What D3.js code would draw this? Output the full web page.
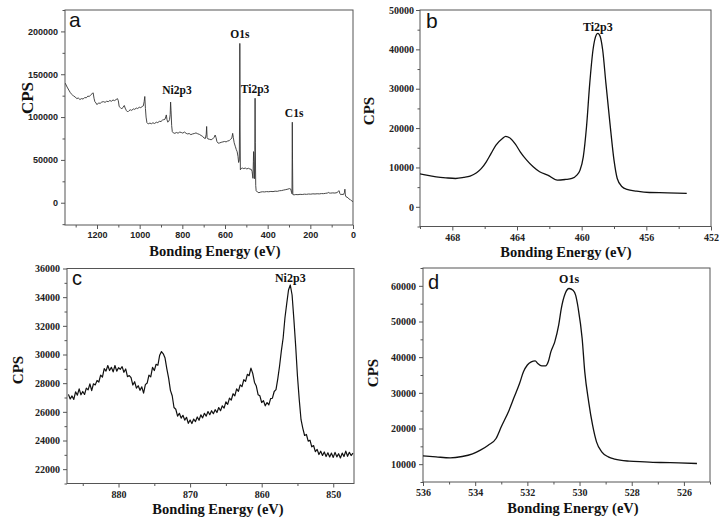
<!DOCTYPE html>
<html><head><meta charset="utf-8">
<script src="https://cdn.jsdelivr.net/npm/d3@7"></script>
<style>
html,body{margin:0;padding:0;background:#fff;}
svg{display:block;}
</style></head>
<body>
<svg id="chart" width="724" height="524"></svg>
<script>
// ---------- DATA ----------
// Panel a: survey spectrum [binding energy eV, CPS]
const surveyData = [[1349,139600],[1340,135000],[1332,131500],[1325,128500],[1318,126500],[1310,124500],[1302,123500],[1295,121500],[1288,122300],[1280,120500],[1272,121600],[1265,121000],[1258,122800],[1250,122500],[1243,124500],[1236,124000],[1228,126300],[1222,127500],[1218,128300],[1214,122000],[1210,118000],[1205,116500],[1200,114500],[1193,116500],[1185,116000],[1178,117500],[1170,118000],[1162,117200],[1155,118500],[1147,118000],[1140,119300],[1132,118500],[1125,120000],[1118,119200],[1110,120500],[1104,121500],[1100,119000],[1096,112300],[1090,111000],[1084,109500],[1078,111500],[1072,113500],[1068,110500],[1062,107500],[1056,106000],[1050,107500],[1044,108500],[1037,107800],[1030,109500],[1023,109000],[1016,110500],[1009,110000],[1002,111500],[995,111000],[988,112300],[983,113000],[979,118000],[976,124000],[973,110000],[970,100000],[966,93500],[960,92000],[952,93000],[945,92200],[938,93300],[930,92500],[922,94000],[915,93500],[908,95000],[900,94800],[893,96500],[887,97000],[881,97500],[877,101000],[875,102500],[872,97000],[868,94000],[864,95000],[860,97000],[857,103000],[855,117500],[853,108000],[850,90000],[847,83000],[842,81500],[835,81000],[828,82000],[820,81200],[812,82500],[805,82000],[798,81300],[790,82500],[782,81000],[775,80300],[768,80800],[760,79500],[752,80300],[744,80800],[736,81500],[728,80500],[720,79800],[712,78500],[705,77500],[698,75500],[692,75000],[688,80000],[686,89000],[684,76000],[680,74500],[672,74000],[665,73500],[658,74500],[652,76000],[646,79000],[642,76000],[638,71500],[632,69500],[625,69800],[618,70500],[610,71000],[602,71500],[595,71000],[588,72000],[580,72500],[574,74000],[568,75500],[564,81000],[561,76000],[557,70000],[552,66000],[547,62000],[543,59500],[539,54000],[536,47000],[533,50000],[531,120000],[530.5,186000],[529.5,100000],[528,38500],[524,40000],[518,40500],[512,39800],[505,40500],[498,39500],[490,40200],[483,39300],[477,39000],[473,36500],[469,28500],[467,48000],[466,59700],[464,40000],[462,28000],[460,60000],[459,122000],[458,70000],[456,20000],[454,14000],[448,12500],[441,11700],[432,12500],[424,12800],[415,12600],[405,13000],[395,12800],[385,13200],[375,13000],[365,13500],[355,13300],[345,14000],[335,14200],[325,14800],[315,15300],[305,15900],[298,16500],[292,16000],[288,12000],[286,10500],[285,60000],[284.5,94000],[283.5,50000],[282,9500],[276,9200],[268,9600],[258,9400],[248,9800],[238,9600],[228,10000],[218,9800],[208,10200],[198,10000],[188,10400],[178,10200],[168,10500],[158,10300],[148,10700],[138,10600],[128,11000],[120,11300],[116,12000],[112,11400],[105,11200],[95,11500],[85,11300],[75,11800],[68,13500],[65,14000],[62,11000],[58,9500],[52,9800],[45,9500],[40,12000],[38,15800],[36,9000],[33,7000],[28,6500],[22,5500],[17,4000],[12,3500],[8,2500],[4,2000],[0,1000]];

// Panel b: Ti 2p
const tiData = [[470.1,8475],[469.6,8050],[469.0,7630],[468.4,7370],[467.8,7200],[467.3,7460],[466.9,7800],[466.5,8640],[466.2,9750],[465.9,11440],[465.6,13560],[465.3,15680],[464.9,17370],[464.7,17900],[464.4,17370],[464.1,15930],[463.8,13980],[463.4,11860],[463.0,10170],[462.6,8900],[462.1,8050],[461.5,6780],[461.0,6950],[460.6,7200],[460.3,8050],[460.1,9320],[459.9,12700],[459.7,20340],[459.5,31360],[459.3,39830],[459.1,43650],[459.0,44070],[458.85,43220],[458.7,39830],[458.5,31360],[458.25,21190],[458.0,11860],[457.8,7200],[457.5,5090],[457.2,4410],[456.6,3980],[455.8,3640],[454.7,3560],[453.5,3390]];

// Panel c: Ni 2p
const niData = [[887.00,27220],[886.75,26900],[886.50,27110],[886.25,26870],[886.00,27400],[885.75,27160],[885.50,27600],[885.25,27190],[885.00,27420],[884.75,27210],[884.50,27650],[884.25,27530],[884.00,27950],[883.75,27480],[883.50,27960],[883.25,27880],[883.00,28190],[882.75,28080],[882.50,28560],[882.25,28430],[882.00,29020],[881.75,28840],[881.50,29230],[881.25,28880],[881.00,29110],[880.75,28790],[880.50,29230],[880.25,28840],[880.00,29080],[879.75,28970],[879.50,29150],[879.25,28760],[879.00,28990],[878.75,28450],[878.50,28530],[878.25,28380],[878.00,27870],[877.75,28100],[877.50,27650],[877.25,27820],[877.00,27500],[876.75,27740],[876.50,27310],[876.25,27900],[876.00,28010],[875.75,28560],[875.50,28440],[875.25,29100],[875.00,28880],[874.75,29320],[874.50,29250],[874.25,29950],[874.00,30200],[873.75,30050],[873.50,29750],[873.25,29000],[873.00,28350],[872.75,27500],[872.50,27120],[872.25,26300],[872.00,26180],[871.75,25700],[871.50,25900],[871.25,25560],[871.00,25760],[870.75,25420],[870.50,25620],[870.25,25200],[870.00,25430],[869.75,25180],[869.50,25500],[869.25,25320],[869.00,25640],[868.75,25410],[868.50,25790],[868.25,25580],[868.00,25900],[867.75,25700],[867.50,26020],[867.25,25800],[867.00,26080],[866.75,25870],[866.50,26150],[866.25,25950],[866.00,26300],[865.75,26080],[865.50,26420],[865.25,26260],[865.00,26690],[864.75,26520],[864.50,26960],[864.25,26820],[864.00,27260],[863.75,27120],[863.50,27600],[863.25,27430],[863.00,27880],[862.75,27760],[862.50,28240],[862.25,28130],[862.00,28620],[861.75,28520],[861.50,29050],[861.25,28680],[861.00,28050],[860.75,27800],[860.50,27200],[860.25,27120],[860.00,26650],[859.75,26780],[859.50,26420],[859.25,26650],[859.00,26480],[858.75,26920],[858.50,26950],[858.25,27420],[858.00,27550],[857.75,28300],[857.50,29200],[857.25,30250],[857.00,31150],[856.75,32550],[856.50,33550],[856.25,34500],[856.00,34850],[855.75,34150],[855.50,32450],[855.25,30600],[855.00,28500],[854.75,26850],[854.50,25450],[854.25,24850],[854.00,24350],[853.75,24420],[853.50,23950],[853.25,24020],[853.00,23560],[852.75,23650],[852.50,23220],[852.25,23380],[852.00,23020],[851.75,23250],[851.50,22960],[851.25,23200],[851.00,22880],[850.75,23140],[850.50,22850],[850.25,23120],[850.00,22820],[849.75,23170],[849.50,22860],[849.25,23080],[849.00,22780],[848.75,23120],[848.50,22880],[848.25,23260],[848.00,22900],[847.75,23180],[847.50,22950],[847.25,23120]];

// Panel d: O 1s
const oData = [[536.0,12340],[535.5,12050],[534.96,11770],[534.5,12150],[534.1,12900],[533.8,13920],[533.5,15330],[533.2,17200],[533.0,20470],[532.7,25140],[532.5,28880],[532.3,32620],[532.15,35890],[532.0,37800],[531.85,38690],[531.7,38970],[531.6,38220],[531.45,37570],[531.3,37570],[531.2,38690],[531.1,41490],[530.95,44300],[530.8,48970],[530.7,53640],[530.55,57850],[530.4,59250],[530.25,58780],[530.15,57380],[530.05,53640],[529.9,45230],[529.8,35890],[529.65,27480],[529.5,20930],[529.35,16260],[529.15,13460],[528.9,12050],[528.65,11400],[528.1,10840],[527.5,10650],[526.9,10470],[526.2,10370],[525.5,10190]];

// Tick values
const aXTicks = [1200,1000,800,600,400,200,0];
const aYTicks = [0,50000,100000,150000,200000];
const bXTicks = [468,464,460,456,452];
const bYTicks = [0,10000,20000,30000,40000,50000];
const cXTicks = [880,870,860,850];
const cYTicks = [22000,24000,26000,28000,30000,32000,34000,36000];
const dXTicks = [536,534,532,530,528,526];
const dYTicks = [10000,20000,30000,40000,50000,60000];

// ---------- DRAW ----------
const svg = d3.select("#chart");
svg.append("rect").attr("width",724).attr("height",524).attr("fill","#fff");

function range(a,b,s){const r=[];for(let v=a;v<=b+1e-9;v+=s)r.push(+v.toFixed(6));return r;}

function panel(cfg){
  const g = svg.append("g");
  const x = d3.scaleLinear().domain(cfg.xd).range([cfg.x0,cfg.x1]);
  const y = d3.scaleLinear().domain(cfg.yd).range([cfg.y1,cfg.y0]);
  const tf = cfg.tickFont;
  const lo = Math.ceil(Math.min(...cfg.xd)/cfg.xMinor)*cfg.xMinor;
  const xmin = range(lo, Math.max(...cfg.xd), cfg.xMinor).filter(v=>!cfg.xt.includes(v));
  const ylo = Math.ceil(cfg.yd[0]/cfg.yMinor)*cfg.yMinor;
  const ymin = range(ylo, cfg.yd[1], cfg.yMinor).filter(v=>!cfg.yt.includes(v));
  const gxm = g.append("g").attr("transform",`translate(0,${cfg.y1})`)
    .call(d3.axisBottom(x).tickValues(xmin).tickSize(2.5).tickFormat(""));
  const gym = g.append("g").attr("transform",`translate(${cfg.x0},0)`)
    .call(d3.axisLeft(y).tickValues(ymin).tickSize(2.5).tickFormat(""));
  const gx = g.append("g").attr("transform",`translate(0,${cfg.y1})`)
    .call(d3.axisBottom(x).tickValues(cfg.xt).tickSize(4).tickPadding(cfg.xPad).tickFormat(d3.format("d")));
  const gy = g.append("g").attr("transform",`translate(${cfg.x0},0)`)
    .call(d3.axisLeft(y).tickValues(cfg.yt).tickSize(4).tickPadding(cfg.yPad).tickFormat(d3.format("d")));
  [gxm,gym,gx,gy].forEach(a=>{a.select(".domain").remove();a.selectAll("line").attr("stroke","#555").attr("stroke-width",1);});
  [gx,gy].forEach(a=>a.selectAll("text").attr("font-family",tf.family).attr("font-weight","bold").attr("font-size",tf.size).attr("fill","#222"));
  g.append("rect").attr("x",cfg.x0).attr("y",cfg.y0).attr("width",cfg.x1-cfg.x0).attr("height",cfg.y1-cfg.y0)
    .attr("fill","none").attr("stroke","#555").attr("stroke-width",1);
  const clip = "clip"+cfg.letter;
  svg.append("clipPath").attr("id",clip).append("rect").attr("x",cfg.x0).attr("y",cfg.y0).attr("width",cfg.x1-cfg.x0).attr("height",cfg.y1-cfg.y0);
  g.append("path").datum(cfg.data).attr("clip-path",`url(#${clip})`)
    .attr("d",d3.line().curve(cfg.curve||d3.curveLinear).x(d=>x(d[0])).y(d=>y(d[1])))
    .attr("fill","none").attr("stroke",cfg.color).attr("stroke-width",cfg.lw).attr("stroke-linejoin","round");
  g.append("text").attr("x",cfg.x0+cfg.letterDx).attr("y",cfg.letterY).text(cfg.letter)
    .attr("font-family","Liberation Sans, Arial, sans-serif").attr("font-size",cfg.letterSize).attr("fill","#111");
  g.append("text").attr("x",cfg.xtX).attr("y",cfg.xtY).attr("text-anchor","middle").text("Bonding Energy (eV)")
    .attr("font-family","Liberation Serif, Times New Roman, serif").attr("font-weight","bold").attr("font-size",14.5).attr("fill","#111");
  g.append("text").attr("transform",`translate(${cfg.ytX},${cfg.ytY}) rotate(-90)`).attr("text-anchor","middle").text("CPS")
    .attr("font-family","Liberation Serif, Times New Roman, serif").attr("font-weight","bold").attr("font-size",cfg.cpsSize).attr("fill","#111");
  cfg.labels.forEach(l=>{
    g.append("text").attr("x",x(l[0])).attr("y",l[2]).attr("text-anchor","middle").text(l[1])
      .attr("font-family","Liberation Serif, Times New Roman, serif").attr("font-weight","bold").attr("font-size",cfg.peakSize).attr("fill","#111");
  });
}

panel({letter:"a", data:surveyData, xd:[1350,0], yd:[-26000,225000], x0:65, x1:353, y0:10, y1:225,
  xt:aXTicks, yt:aYTicks, xMinor:100, yMinor:25000, xPad:3, yPad:3,
  tickFont:{family:"Liberation Sans, Arial, sans-serif", size:9}, color:"#333", lw:0.9,
  letterDx:4, letterY:27, letterSize:21, xtX:215, xtY:256, ytX:33, ytY:98, cpsSize:17, peakSize:11.5,
  labels:[[530.5,"O1s",38],[825,"Ni2p3",94],[459,"Ti2p3",93],[276,"C1s",117]]});

panel({letter:"b", data:tiData, xd:[470,452], yd:[-5000,50000], x0:420, x1:711, y0:10, y1:226.5,
  xt:bXTicks, yt:bYTicks, xMinor:2, yMinor:5000, xPad:3, yPad:2,
  tickFont:{family:"Liberation Serif, Times New Roman, serif", size:10}, color:"#111", lw:1.3,
  curve:d3.curveMonotoneX,
  letterDx:6, letterY:28, letterSize:21, xtX:566, xtY:257, ytX:374, ytY:111, cpsSize:15, peakSize:12,
  labels:[[459,"Ti2p3",31]]});

panel({letter:"c", data:niData, xd:[887.2,847.1], yd:[21000,36000], x0:67, x1:354, y0:268.5, y1:483.5,
  xt:cXTicks, yt:cYTicks, xMinor:5, yMinor:1000, xPad:3, yPad:3,
  tickFont:{family:"Liberation Serif, Times New Roman, serif", size:10}, color:"#111", lw:1.2,
  letterDx:5, letterY:285, letterSize:20, xtX:218, xtY:514, ytX:23, ytY:370, cpsSize:15, peakSize:12,
  labels:[[856,"Ni2p3",282]]});

panel({letter:"d", data:oData, xd:[536,525], yd:[5000,65000], x0:423, x1:710, y0:268, y1:482,
  xt:dXTicks, yt:dYTicks, xMinor:1, yMinor:5000, xPad:3, yPad:3,
  tickFont:{family:"Liberation Serif, Times New Roman, serif", size:10}, color:"#111", lw:1.3,
  curve:d3.curveMonotoneX,
  letterDx:5, letterY:288.5, letterSize:20, xtX:573, xtY:513, ytX:378, ytY:373, cpsSize:15, peakSize:12,
  labels:[[530.4,"O1s",283]]});
</script>
</body></html>
